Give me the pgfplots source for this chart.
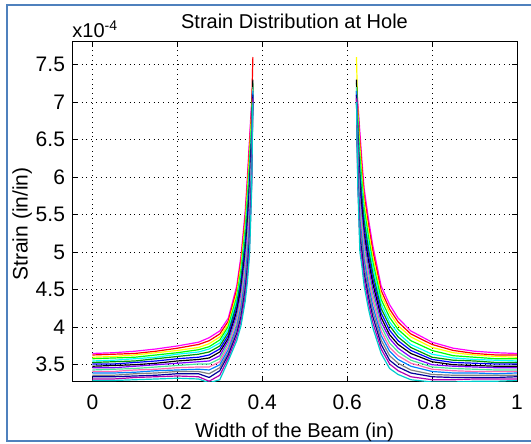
\documentclass[border=0pt]{standalone}
\usepackage{pgfplots}
\pgfplotsset{compat=1.18}
\usepackage{pgfplotstable}
\usepackage{fontspec}
\setmainfont{Liberation Sans}

\definecolor{frameblue}{RGB}{79,129,189}
\definecolor{col0}{rgb}{1,0,1}
\definecolor{col1}{rgb}{1,0,0}
\definecolor{col2}{rgb}{1,1,0}
\definecolor{col3}{rgb}{0,1,0}
\definecolor{col4}{rgb}{0,1,1}
\definecolor{col5}{rgb}{0,0.6,0}
\definecolor{col6}{rgb}{0,0,1}
\definecolor{col7}{rgb}{0,0,0}
\definecolor{col8}{rgb}{0.5,0,1}
\definecolor{col9}{rgb}{0.3,0.9,0.6}
\definecolor{col10}{rgb}{1,0.4,0.7}
\definecolor{col11}{rgb}{0,0.5,1}
\definecolor{col12}{rgb}{0.5,0.5,0.5}
\definecolor{col13}{rgb}{0,0,0.6}
\definecolor{col14}{rgb}{0.7,0,0.7}
\definecolor{col15}{rgb}{0,0.8,0.8}

% left of the hole: rows = x positions, columns = 16 strain curves (x1e-4)
\pgfplotstableread{
x     c0   c1   c2   c3   c4   c5   c6   c7   c8   c9   c10  c11  c12  c13  c14  c15
0     3.65 3.63 3.60 3.58 3.55 3.53 3.51 3.48 3.46 3.43 3.41 3.39 3.36 3.34 3.31 3.29
0.05  3.66 3.64 3.61 3.59 3.56 3.54 3.51 3.49 3.46 3.44 3.41 3.39 3.36 3.34 3.31 3.29
0.1   3.68 3.65 3.63 3.60 3.58 3.55 3.53 3.50 3.48 3.45 3.43 3.40 3.38 3.35 3.33 3.30
0.15  3.71 3.68 3.66 3.63 3.60 3.58 3.55 3.52 3.50 3.47 3.44 3.42 3.39 3.36 3.34 3.31
0.2   3.75 3.72 3.69 3.66 3.64 3.61 3.58 3.55 3.52 3.49 3.46 3.43 3.41 3.38 3.35 3.32
0.25  3.80 3.77 3.73 3.70 3.67 3.64 3.60 3.57 3.54 3.51 3.47 3.44 3.41 3.38 3.34 3.31
0.275 3.86 3.82 3.78 3.74 3.71 3.67 3.63 3.59 3.55 3.51 3.47 3.43 3.38 3.33 3.28 3.26
0.3   3.95 3.91 3.87 3.83 3.79 3.75 3.71 3.67 3.62 3.58 3.54 3.50 3.46 3.42 3.36 3.30
0.32  4.12 4.08 4.04 4.01 3.97 3.93 3.89 3.85 3.82 3.78 3.74 3.70 3.66 3.63 3.59 3.55
0.34  4.55 4.50 4.45 4.40 4.36 4.31 4.26 4.21 4.16 4.11 4.06 4.01 3.97 3.92 3.87 3.82
0.35  4.95 4.89 4.83 4.76 4.70 4.64 4.58 4.52 4.45 4.39 4.33 4.27 4.21 4.14 4.08 4.02
0.36  5.55 5.47 5.39 5.31 5.23 5.15 5.07 4.99 4.91 4.83 4.75 4.67 4.59 4.51 4.43 4.35
0.365 6.00 5.91 5.81 5.72 5.63 5.53 5.44 5.35 5.25 5.16 5.07 4.97 4.88 4.79 4.69 4.60
0.37  6.50 6.40 6.29 6.19 6.09 5.98 5.88 5.78 5.67 5.57 5.47 5.36 5.26 5.16 5.05 4.95
0.375 7.00 6.92 6.84 6.76 6.68 6.60 6.52 6.44 6.36 6.28 6.20 6.12 6.04 5.96 5.88 5.80
0.378 7.20 7.60 7.10 7.25 7.05 7.15 7.00 7.30 7.10 7.20 7.05 7.15 7.00 7.10 7.05 7.00
}\lefttab

% right of the hole
\pgfplotstableread{
x     c0   c1   c2   c3   c4   c5   c6   c7   c8   c9   c10  c11  c12  c13  c14  c15
0.622 7.20 7.10 7.60 7.25 7.05 7.15 7.00 7.30 7.10 7.20 7.05 7.15 7.00 7.10 7.05 7.00
0.625 7.00 6.93 6.85 6.78 6.71 6.63 6.56 6.49 6.41 6.34 6.27 6.19 6.12 6.05 5.97 5.90
0.63  6.60 6.49 6.39 6.28 6.17 6.07 5.96 5.85 5.75 5.64 5.53 5.43 5.32 5.21 5.11 5.00
0.635 6.20 6.11 6.01 5.92 5.83 5.73 5.64 5.55 5.45 5.36 5.27 5.17 5.08 4.99 4.89 4.80
0.64  5.85 5.76 5.68 5.59 5.50 5.42 5.33 5.24 5.16 5.07 4.98 4.90 4.81 4.72 4.64 4.55
0.65  5.45 5.37 5.29 5.21 5.13 5.05 4.97 4.89 4.81 4.73 4.65 4.57 4.49 4.41 4.33 4.25
0.66  5.10 5.03 4.95 4.88 4.81 4.73 4.66 4.59 4.51 4.44 4.37 4.29 4.22 4.15 4.07 4.00
0.68  4.55 4.49 4.43 4.37 4.31 4.25 4.19 4.13 4.07 4.01 3.95 3.89 3.83 3.77 3.71 3.65
0.7   4.30 4.24 4.19 4.13 4.07 4.02 3.96 3.90 3.85 3.79 3.73 3.68 3.62 3.56 3.51 3.45
0.72  4.12 4.07 4.02 3.97 3.92 3.87 3.82 3.77 3.72 3.67 3.62 3.57 3.52 3.47 3.42 3.37
0.75  3.95 3.91 3.87 3.82 3.77 3.73 3.69 3.65 3.60 3.56 3.52 3.48 3.43 3.39 3.34 3.30
0.8   3.80 3.77 3.73 3.69 3.64 3.60 3.57 3.54 3.50 3.47 3.44 3.41 3.37 3.34 3.30 3.27
0.85  3.72 3.69 3.66 3.62 3.59 3.56 3.53 3.50 3.48 3.45 3.42 3.39 3.36 3.33 3.30 3.27
0.9   3.68 3.65 3.63 3.60 3.57 3.55 3.52 3.49 3.47 3.44 3.41 3.39 3.36 3.33 3.31 3.28
0.95  3.66 3.63 3.61 3.58 3.56 3.53 3.51 3.48 3.46 3.43 3.41 3.38 3.36 3.33 3.31 3.28
1.0   3.65 3.63 3.60 3.58 3.55 3.53 3.51 3.48 3.46 3.43 3.41 3.39 3.36 3.34 3.31 3.29
}\righttab

\begin{document}
\fontsize{10}{12}\selectfont
\begin{tikzpicture}
\useasboundingbox (0,0) rectangle (265.5pt,222pt);
\draw[frameblue, line width=1pt] (3.25pt,1.5pt) rectangle (290pt,219.5pt);
\begin{axis}[
  name=ax,
  at={(36pt,31pt)}, anchor=south west,
  width=222.5pt, height=170pt, scale only axis,
  xmin=-0.048, xmax=1, ymin=3.27, ymax=7.8,
  xtick={0,0.2,...,1}, ytick={3.5,4,...,7.5},
  xticklabels={0,0.2,0.4,0.6,0.8,1},
  yticklabels={3.5,4,4.5,5,5.5,6,6.5,7,7.5},
  /pgf/number format/assume math mode=true,
  tick label style={font=\fontsize{10.5}{12}\selectfont},
  xticklabel style={yshift=-3pt},
  tick align=inside, major tick length=2.5pt,
  tick style={black, line width=0.5pt},
  axis line style={black, line width=0.5pt},
  grid=major, grid style={dotted, black, line width=0.45pt},
  title={Strain Distribution at Hole},
  title style={font=\fontsize{10}{12}\selectfont, yshift=-3pt},
  xlabel={Width of the Beam (in)},
  ylabel={Strain (in/in)},
  xlabel style={font=\fontsize{10}{12}\selectfont, yshift=0.5pt},
  ylabel style={font=\fontsize{10.5}{12}\selectfont, yshift=-5pt, xshift=-6pt},
  clip=true,
]
\pgfplotsinvokeforeach{0,...,15}{
  \addplot[color=col#1, line width=0.6pt, no marks] table[x=x, y=c#1]{\lefttab};
  \addplot[color=col#1, line width=0.6pt, no marks] table[x=x, y=c#1]{\righttab};
}
\end{axis}
\node[anchor=south west, inner sep=0pt, font=\fontsize{10}{12}\selectfont] at ([yshift=2pt]ax.north west) {x10\textsuperscript{-4}};
\end{tikzpicture}
\end{document}
